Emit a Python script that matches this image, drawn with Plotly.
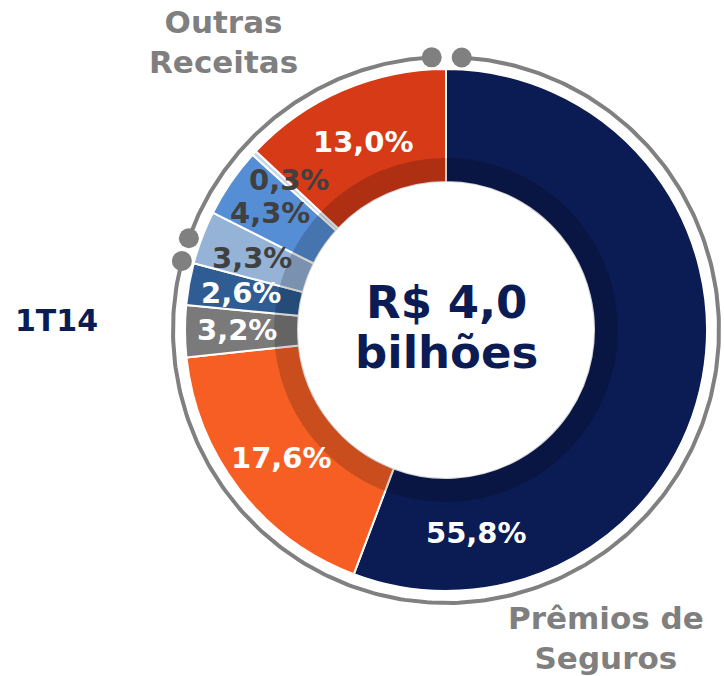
import numpy as np
import plotly.graph_objects as go

# ---- data ----
slice_values = [55.8, 17.6, 3.2, 2.6, 3.3, 4.3, 0.3, 13.0]
slice_colors = ["#0B1C54", "#F75E24", "#7A7A7A", "#2E5C93", "#95B3D7", "#558ED5", "#C5D5EA", "#D63A17"]
label_colors = ["white", "white", "white", "white", "#404040", "#404040", "#404040", "white"]
group_names = ["Prêmios de<br>Seguros", "Outras<br>Receitas"]
group_sizes = [4, 4]  # number of slices in each group
period_label = "1T14"
center_text = ["R$ 4,0", "bilhões"]

# ---- layout (pixels) ----
W, H = 724, 676
cx, cy = 446, 330
r_out, r_in = 261, 148
r_shadow = 172
r_arc = 273
label_xy = [(476, 533), (281, 458), (237, 330), (241, 293), (252, 258), (270, 213), (289, 180), (363, 142)]

FONT = "DejaVu Sans"

def dom(r):
    return dict(x=[(cx - r) / W, (cx + r) / W], y=[1 - (cy + r) / H, 1 - (cy - r) / H])

fig = go.Figure()

# main donut
fig.add_trace(go.Pie(
    values=slice_values, sort=False, direction="clockwise", rotation=0,
    hole=r_in / r_out, domain=dom(r_out),
    marker=dict(colors=slice_colors, line=dict(color="white", width=2)),
    textinfo="none", hoverinfo="skip", showlegend=False,
))
# inner shadow band
fig.add_trace(go.Pie(
    values=[1], sort=False, hole=r_in / r_shadow, domain=dom(r_shadow),
    marker=dict(colors=["rgba(0,0,0,0.18)"], line=dict(width=0)),
    textinfo="none", hoverinfo="skip", showlegend=False,
))

# outer group arcs with end dots
total = sum(slice_values)
bounds = np.cumsum([0] + [sum(slice_values[:group_sizes[0]]), sum(slice_values[group_sizes[0]:])]) / total * 360
gaps = [(3.3, -0.2), (4.8, -3.0)]  # angular offsets at start / end of each arc
for gi in range(2):
    a0 = bounds[gi] + gaps[gi][0]
    a1 = bounds[gi + 1] + gaps[gi][1]
    th = np.radians(np.linspace(a0, a1, 300))
    xs = cx + r_arc * np.sin(th)
    ys = cy - r_arc * np.cos(th)
    fig.add_trace(go.Scatter(x=xs, y=ys, mode="lines", line=dict(color="#808080", width=4),
                             hoverinfo="skip", showlegend=False))
    fig.add_trace(go.Scatter(x=[xs[0], xs[-1]], y=[ys[0], ys[-1]], mode="markers",
                             marker=dict(color="#808080", size=20), hoverinfo="skip", showlegend=False))

annotations = []
for v, (x, y), c in zip(slice_values, label_xy, label_colors):
    annotations.append(dict(x=x, y=y, xref="x", yref="y", showarrow=False,
                            text=f"{v:.1f}".replace(".", ",") + "%",
                            font=dict(family=FONT, size=29, color=c, weight="bold")))
annotations += [
    dict(x=446, y=302, xref="x", yref="y", showarrow=False, text=center_text[0],
         font=dict(family=FONT, size=45, color="#0B1C54", weight="bold")),
    dict(x=446, y=352, xref="x", yref="y", showarrow=False, text=center_text[1],
         font=dict(family=FONT, size=45, color="#0B1C54", weight="bold")),
    dict(x=56, y=320, xref="x", yref="y", showarrow=False, text=period_label,
         font=dict(family=FONT, size=30, color="#0B1C54", weight="bold")),
    dict(x=223, y=42, xref="x", yref="y", showarrow=False, text=group_names[1],
         font=dict(family=FONT, size=31, color="#7F7F7F", weight="bold")),
    dict(x=606, y=638, xref="x", yref="y", showarrow=False, text=group_names[0],
         font=dict(family=FONT, size=31, color="#7F7F7F", weight="bold")),
]

fig.update_layout(
    width=W, height=H, margin=dict(l=0, r=0, t=0, b=0),
    paper_bgcolor="white", plot_bgcolor="white",
    xaxis=dict(range=[0, W], visible=False, fixedrange=True),
    yaxis=dict(range=[H, 0], visible=False, fixedrange=True),
    annotations=annotations, showlegend=False,
)
fig.write_html("out.html", config={"displayModeBar": False},
               post_script="document.body.style.margin='0';document.body.style.overflow='hidden';")
